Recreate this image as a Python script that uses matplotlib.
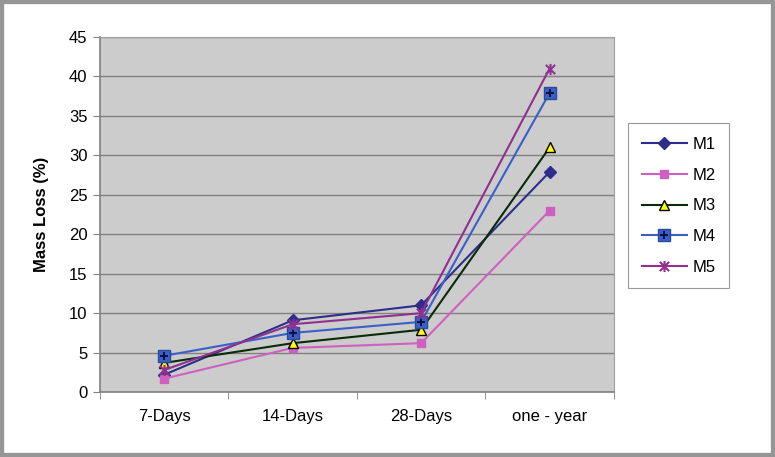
import matplotlib
matplotlib.use("Agg")
import matplotlib.pyplot as plt
from matplotlib.patches import Rectangle
from matplotlib.path import Path

plt.rcParams['font.family'] = ['Liberation Sans', 'DejaVu Sans']

categories = ["7-Days", "14-Days", "28-Days", "one - year"]
series_names = ["M1", "M2", "M3", "M4", "M5"]
m1 = [2.2, 9.1, 11.0, 27.9]
m2 = [1.7, 5.6, 6.2, 23.0]
m3 = [3.7, 6.2, 7.9, 31.0]
m4 = [4.6, 7.5, 8.9, 37.9]
m5 = [2.8, 8.6, 10.0, 41.0]
yticks = [0, 5, 10, 15, 20, 25, 30, 35, 40, 45]

asterisk = Path([(-1, -1), (1, 1), (-1, 1), (1, -1), (0, -1.2), (0, 1.2)],
                [Path.MOVETO, Path.LINETO, Path.MOVETO, Path.LINETO, Path.MOVETO, Path.LINETO])

values = [m1, m2, m3, m4, m5]
styles = [
    dict(color="#2E2E8A", marker="D", markersize=6, markerfacecolor="#2E2E8A", markeredgecolor="#2E2E8A"),
    dict(color="#D060C0", marker="s", markersize=6, markerfacecolor="#D060C0", markeredgecolor="#D060C0"),
    dict(color="#0A2A0A", marker="^", markersize=7, markerfacecolor="#FFFF00", markeredgecolor="#000000"),
    dict(color="#3A5FC8", marker="s", markersize=8, markerfacecolor="#3A5FC8", markeredgecolor="#2A4A9A"),
    dict(color="#903090", marker=asterisk, markersize=8, markeredgewidth=1.5, markeredgecolor="#903090",
         markerfacecolor="none"),
]

fig = plt.figure(figsize=(7.75, 4.57), dpi=100)
fig.patch.set_facecolor("white")
ax = fig.add_axes([0.129, 0.142, 0.663, 0.777])
ax.set_facecolor("#CCCCCC")

x = list(range(len(categories)))
handles = []
for name, vals, st in zip(series_names, values, styles):
    ln, = ax.plot(x, vals, label=name, linewidth=1.5, **st)
    if name == "M4":
        pl, = ax.plot(x, vals, linestyle="none", marker="+", markersize=6, markeredgewidth=1.4, color="#101040")
        handles.append((ln, pl))
    else:
        handles.append(ln)

ax.set_xlim(-0.5, 3.5)
ax.set_ylim(0, 45)
ax.set_yticks(yticks)
ax.yaxis.grid(True, color="#808080", linewidth=1.0)
ax.set_axisbelow(True)
ax.set_xticks(x)
ax.set_xticklabels(categories, fontsize=12)
ax.set_xticks([-0.5, 0.5, 1.5, 2.5, 3.5], minor=True)
ax.tick_params(axis="x", which="major", length=0, pad=12)
ax.tick_params(axis="x", which="minor", length=5, color="#808080", direction="out")
ax.tick_params(axis="y", labelsize=12, length=5, color="#808080", pad=4)
ax.set_ylabel("Mass Loss (%)", fontsize=12, fontweight="bold", labelpad=14)

for s in ["top", "right"]:
    ax.spines[s].set_color("#A0A0A0")
for s in ["left", "bottom"]:
    ax.spines[s].set_color("#808080")
    ax.spines[s].set_linewidth(1.2)

leg = ax.legend(handles, series_names, loc="upper left", bbox_to_anchor=(1.012, 0.78), frameon=True,
                fancybox=False, edgecolor="#808080", fontsize=12, handlelength=2.7, labelspacing=0.95,
                borderpad=0.8, handletextpad=0.35)
leg.get_frame().set_linewidth(0.8)

fig.add_artist(Rectangle((0, 0), 1, 1, transform=fig.transFigure, fill=False,
                         edgecolor="#969696", linewidth=6))

fig.savefig("out.png", dpi=100)
